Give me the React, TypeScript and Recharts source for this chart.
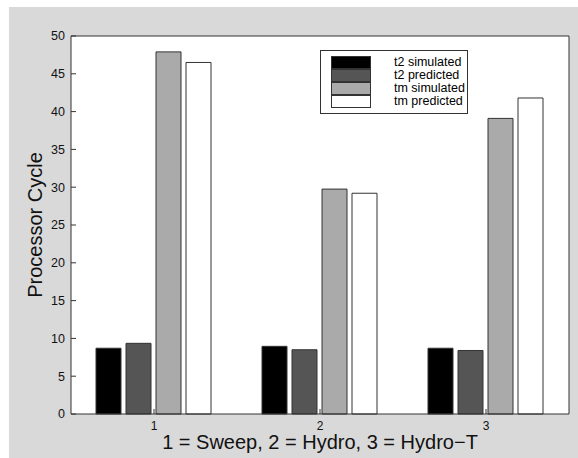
import React from 'react'
import {
  BarChart,
  Bar,
  XAxis,
  YAxis,
  CartesianGrid,
  Legend,
  Label,
} from 'recharts'

// values
const categories = ['1', '2', '3']
const t2Simulated = [8.7, 8.95, 8.7]
const t2Predicted = [9.35, 8.5, 8.4]
const tmSimulated = [47.9, 29.75, 39.1]
const tmPredicted = [46.5, 29.2, 41.8]
const yTicks = [0, 5, 10, 15, 20, 25, 30, 35, 40, 45, 50]

const seriesKeys = ['t2s', 't2p', 'tms', 'tmp']
const seriesNames = ['t2 simulated', 't2 predicted', 'tm simulated', 'tm predicted']
const seriesColors = ['#000000', '#555555', '#aaaaaa', '#ffffff']

const data = categories.map((name, i) => ({
  name,
  t2s: t2Simulated[i],
  t2p: t2Predicted[i],
  tms: tmSimulated[i],
  tmp: tmPredicted[i],
}))

const FONT = '"Liberation Sans", Arial, Helvetica, sans-serif'
const EDGE = '#333333'

// legend box like the matlab one, kept in series order
function LegendBox() {
  return (
    <div
      style={{
        width: 148,
        height: 64,
        boxSizing: 'border-box',
        border: `1px solid ${EDGE}`,
        background: '#fff',
        padding: '5px 0 0 10px',
        fontFamily: FONT,
        fontSize: 12.5,
        color: '#000',
      }}
    >
      {seriesNames.map((name, i) => (
        <div key={name} style={{ display: 'flex', alignItems: 'center', height: 13 }}>
          <span
            style={{
              display: 'inline-block',
              width: 40,
              height: 13,
              boxSizing: 'border-box',
              background: seriesColors[i],
              border: `1px solid ${EDGE}`,
            }}
          />
          <span style={{ marginLeft: 23, lineHeight: '13px' }}>{name}</span>
        </div>
      ))}
    </div>
  )
}

export default function App() {
  return (
    <div
      style={{
        position: 'absolute',
        left: 9,
        top: 7,
        width: 569,
        height: 451,
        background: '#d9d9d9',
        fontFamily: FONT,
      }}
    >
      <BarChart
        width={569}
        height={451}
        data={data}
        margin={{ top: 28, right: 8, bottom: 0, left: 0 }}
        barCategoryGap={25}
        barGap={5}
      >
        <CartesianGrid horizontal={false} vertical={false} fill="#ffffff" />
        {seriesKeys.map((key, i) => (
          <Bar
            key={key}
            dataKey={key}
            name={seriesNames[i]}
            fill={seriesColors[i]}
            stroke={EDGE}
            isAnimationActive={false}
          />
        ))}
        <XAxis
          dataKey="name"
          height={44}
          interval={0}
          tickSize={-5}
          tickMargin={12}
          stroke={EDGE}
          tick={{ fontSize: 12, fill: '#111' }}
        >
          <Label
            value="1 = Sweep, 2 = Hydro, 3 = Hydro−T"
            position="insideTop"
            offset={21}
            style={{ fontSize: 20, fill: '#111' }}
          />
        </XAxis>
        <XAxis
          xAxisId="top"
          dataKey="name"
          orientation="top"
          height={1}
          interval={0}
          tickSize={-5}
          tick={false}
          stroke={EDGE}
        />
        <YAxis
          type="number"
          domain={[0, 50]}
          ticks={yTicks}
          interval={0}
          width={62}
          tickSize={-5}
          tickMargin={11}
          stroke={EDGE}
          tick={{ fontSize: 12.5, fill: '#111' }}
        >
          <Label
            value="Processor Cycle"
            angle={-90}
            position="insideLeft"
            offset={26}
            style={{ fontSize: 20, fill: '#111', textAnchor: 'middle' }}
          />
        </YAxis>
        <YAxis
          yAxisId="right"
          type="number"
          orientation="right"
          domain={[0, 50]}
          ticks={yTicks}
          interval={0}
          width={1}
          tickSize={-5}
          tick={false}
          stroke={EDGE}
        />
        <Legend
          layout="vertical"
          align="center"
          verticalAlign="middle"
          content={<LegendBox />}
          wrapperStyle={{ position: 'absolute', left: 311, top: 43, width: 148, height: 64 }}
        />
      </BarChart>
    </div>
  )
}
